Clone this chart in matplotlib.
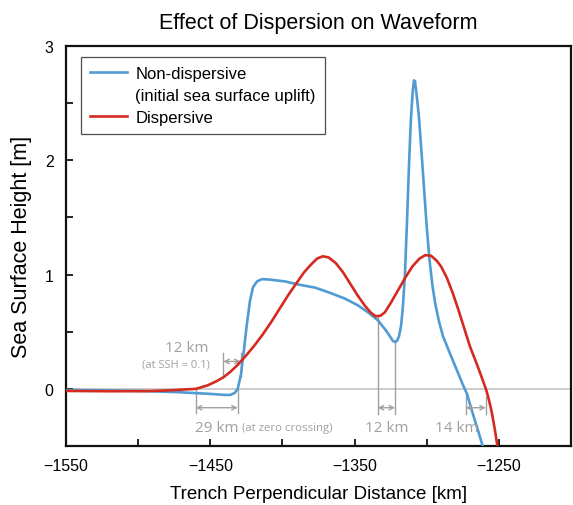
import matplotlib.pyplot as plt
from matplotlib.lines import Line2D
from matplotlib.ticker import MultipleLocator

plt.rcParams['font.family'] = ['Liberation Sans', 'DejaVu Sans']

# Non-dispersive waveform (initial sea surface uplift)
blue_x = [-1550, -1526, -1499, -1471, -1450, -1440, -1436, -1433, -1431,
          -1428.7, -1426.6, -1424.6, -1422.5, -1420.4, -1417.6, -1414.2,
          -1408.6, -1398.2, -1387.8, -1377.4, -1367.0, -1356.7, -1347.6,
          -1340.7, -1333.8, -1328.2, -1325.5, -1323.5, -1322.0, -1320.6,
          -1319.2, -1317.8, -1316.5, -1315.1, -1313.7, -1312.3, -1311.0,
          -1309.6, -1308.8, -1308.1, -1306.8, -1305.4, -1303.6, -1302.0,
          -1300.0, -1298.0, -1296.0, -1294.0, -1291.5, -1288.7, -1283.9,
          -1279.0, -1274.9, -1272.1, -1268.0, -1263.8, -1261.0]
blue_y = [-0.01, -0.013, -0.018, -0.03, -0.044, -0.053, -0.053, -0.035, 0.0,
          0.13, 0.35, 0.57, 0.77, 0.89, 0.94, 0.96,
          0.956, 0.94, 0.91, 0.886, 0.84, 0.79, 0.73,
          0.67, 0.60, 0.51, 0.46, 0.42, 0.41, 0.42,
          0.46, 0.55, 0.72, 1.00, 1.45, 1.95, 2.35,
          2.62, 2.70, 2.69, 2.55, 2.38, 2.07, 1.78,
          1.42, 1.12, 0.90, 0.74, 0.59, 0.46, 0.31,
          0.16, 0.035, -0.044, -0.22, -0.39, -0.51]

# Dispersive waveform
red_x = [-1550, -1520, -1495, -1480, -1470, -1460, -1452, -1446, -1441,
         -1436, -1431, -1426, -1420, -1414, -1408, -1402, -1396, -1390,
         -1385, -1380, -1376, -1372, -1368, -1363, -1358, -1353, -1348,
         -1343, -1339, -1335.5, -1332, -1329, -1325, -1320, -1315, -1310,
         -1305, -1301, -1297, -1293, -1290, -1286, -1282, -1278, -1274,
         -1270, -1266.6, -1263, -1261, -1259, -1257, -1255, -1253, -1251]
red_y = [-0.018, -0.021, -0.02, -0.014, -0.007, 0.0, 0.03, 0.065, 0.10,
         0.15, 0.21, 0.28, 0.37, 0.47, 0.58, 0.70, 0.82, 0.93,
         1.02, 1.09, 1.14, 1.16, 1.15, 1.10, 1.02, 0.92, 0.82,
         0.73, 0.67, 0.635, 0.64, 0.67, 0.75, 0.86, 0.97, 1.07,
         1.14, 1.17, 1.165, 1.12, 1.07, 0.97, 0.84, 0.69, 0.53,
         0.37, 0.26, 0.14, 0.07, 0.0, -0.09, -0.2, -0.34, -0.5]

# Gap annotations: (label, right end, width in km)
zero_gap = ('29 km', -1431, 29)
ssh_gap = ('12 km', -1429, 12)
min_gap = ('12 km', -1322, 12)
tail_gap = ('14 km', -1259, 14)

blue = '#519bd3'
red = '#d42a20'
gray = '#a0a0a0'
note_font = ['Open Sans', 'DejaVu Sans']

fig = plt.figure(figsize=(5.73, 5.06), dpi=100)
ax = fig.add_axes([66 / 573, 59 / 506, 505 / 573, 400 / 506])

ax.axhline(0, color='#c8c8c8', lw=1.3, zorder=1)
ax.plot(blue_x, blue_y, color=blue, lw=1.9, zorder=3)
ax.plot(red_x, red_y, color=red, lw=1.9, zorder=4)

ax.set_xlim(-1550, -1200)
ax.set_ylim(-0.5, 3)


def bracket(right, width, top_l, top_r, bottom, ya):
    left = right - width
    ax.plot([left, left], [top_l, bottom], color=gray, lw=1, zorder=2)
    ax.plot([right, right], [top_r, bottom], color=gray, lw=1, zorder=2)
    ax.annotate('', xy=(right, ya), xytext=(left, ya),
                arrowprops=dict(arrowstyle='<->', color=gray, lw=1,
                                shrinkA=0, shrinkB=0, mutation_scale=8))
    return left


# zero crossing gap
left = bracket(zero_gap[1], zero_gap[2], 0, 0, -0.21, -0.165)
t = ax.text(left - 0.5, -0.335, zero_gap[0], color=gray, fontsize=11,
            family=note_font, ha='left', va='center')
ax.annotate(' (at zero crossing)', xy=(1, 0.12), xycoords=t, color=gray,
            fontsize=8.2, family=note_font, ha='left', va='bottom')

# gap at SSH = 0.1
bracket(ssh_gap[1], ssh_gap[2], 0.31, 0.31, 0.1, 0.24)
ax.text(-1466, 0.365, ssh_gap[0], color=gray, fontsize=11,
        family=note_font, ha='center', va='center')
ax.text(-1450, 0.22, '(at SSH = 0.1)', color=gray, fontsize=8,
        family=note_font, ha='right', va='center')

# gap between the minima
left = bracket(min_gap[1], min_gap[2], 0.63, 0.41, -0.22, -0.165)
ax.text((left + min_gap[1]) / 2, -0.335, min_gap[0], color=gray,
        fontsize=11, family=note_font, ha='center', va='center')

# gap at the leading tail
bracket(tail_gap[1], tail_gap[2], -0.05, -0.07, -0.22, -0.165)
ax.text(-1279, -0.335, tail_gap[0], color=gray, fontsize=11,
        family=note_font, ha='center', va='center')

ax.xaxis.set_major_locator(MultipleLocator(100, offset=50))
ax.xaxis.set_minor_locator(MultipleLocator(50))
ax.yaxis.set_major_locator(MultipleLocator(1))
ax.yaxis.set_minor_locator(MultipleLocator(0.5))
ax.tick_params(which='both', direction='in', length=5, width=1.2,
               top=False, right=False, labelsize=11.5)
ax.tick_params(axis='x', pad=9)
ax.tick_params(axis='y', pad=9)

for side in ['left', 'bottom', 'top', 'right']:
    ax.spines[side].set_linewidth(1.6)
    ax.spines[side].set_color('#111111')

ax.set_xlabel('Trench Perpendicular Distance [km]', fontsize=13.5, labelpad=8)
ax.set_ylabel('Sea Surface Height [m]', fontsize=15.5, labelpad=9)
ax.set_title('Effect of Dispersion on Waveform', fontsize=15.5, pad=13)

handles = [Line2D([], [], color=blue, lw=1.9),
           Line2D([], [], color='none'),
           Line2D([], [], color=red, lw=1.9)]
labels = ['Non-dispersive', '(initial sea surface uplift)', 'Dispersive']
leg = ax.legend(handles, labels, loc='upper left',
                bbox_to_anchor=(15 / 505, 1 - 11 / 400), borderaxespad=0,
                fontsize=12, frameon=True, fancybox=False,
                handlelength=2.2, handletextpad=0.5, labelspacing=0.4,
                borderpad=0.55)
leg.get_frame().set_edgecolor('#222222')
leg.get_frame().set_linewidth(0.9)

fig.savefig('out.png', dpi=100)
